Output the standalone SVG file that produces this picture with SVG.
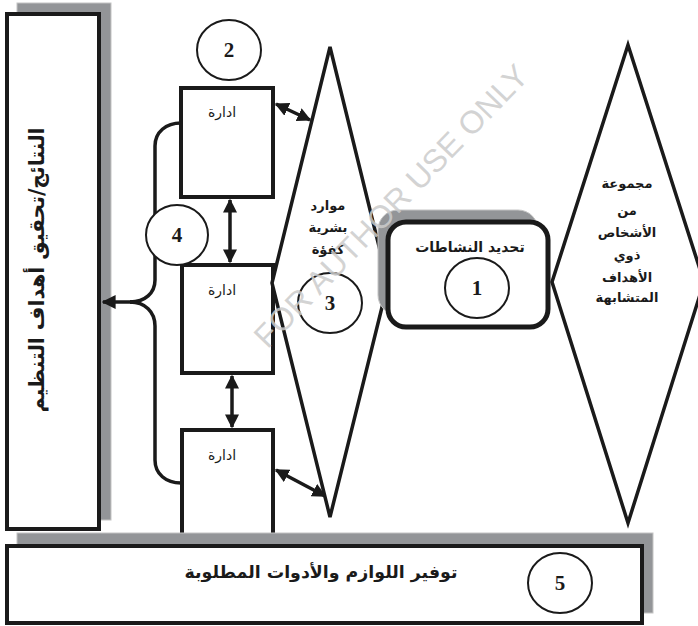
<svg xmlns="http://www.w3.org/2000/svg" width="698" height="626" viewBox="0 0 698 626">
<style>
.box{fill:#fff;stroke:#1a1a1a;stroke-width:4}
.shadow{fill:#939598;stroke:#c4c4c4;stroke-width:1}
.dia{fill:#fff;stroke:#1a1a1a;stroke-width:3.5;stroke-linejoin:miter}
.circ{fill:#fff;stroke:#1a1a1a;stroke-width:2}
.num{font-family:"Liberation Serif",serif;font-weight:bold;font-size:21px;fill:#1a1a1a;text-anchor:middle}
.ar{font-family:"DejaVu Sans",sans-serif;fill:#1a1a1a;text-anchor:middle}
.arb{font-family:"DejaVu Sans",sans-serif;font-weight:bold;fill:#1a1a1a;text-anchor:middle}
.con{fill:none;stroke:#1a1a1a;stroke-width:3.5}
</style>
<defs>
<marker id="ah" viewBox="0 0 10 10" refX="9" refY="5" markerWidth="4" markerHeight="4" orient="auto-start-reverse" markerUnits="strokeWidth">
<path d="M0,0 L10,5 L0,10 z" fill="#1a1a1a"/>
</marker>
</defs>
<rect width="698" height="626" fill="#fff"/>

<g id="results">
<rect class="shadow" x="17" y="3" width="94" height="517"/>
<rect class="box" x="7" y="14" width="92" height="515"/>
<text class="arb" font-size="21" transform="translate(44,270) rotate(-90)" textLength="285" lengthAdjust="spacingAndGlyphs">النتائج/تحقيق أهداف التنظيم</text>
</g>

<g id="circle2">
<ellipse class="circ" cx="229" cy="50" rx="32" ry="30"/>
<text class="num" x="229" y="57">2</text>
</g>

<g id="admin1">
<rect class="box" x="181" y="88" width="92" height="109"/>
<text class="ar" font-size="14" x="222" y="117">ادارة</text>
</g>
<g id="admin2">
<rect class="box" x="182" y="265" width="91" height="108"/>
<text class="ar" font-size="14" x="222" y="295">ادارة</text>
</g>
<g id="admin3">
<path class="box" d="M182,545 V430 H273 V545"/>
<text class="ar" font-size="14" x="222" y="460">ادارة</text>
</g>

<g id="resources">
<polygon class="dia" points="330,47 388,283 330,517 272,283"/>
<text class="arb" font-size="13" x="328" y="210">موارد</text>
<text class="arb" font-size="13" x="328" y="232">بشرية</text>
<text class="arb" font-size="13" x="328" y="254">كفؤة</text>
<ellipse class="circ" cx="330" cy="303" rx="32" ry="30"/>
<text class="num" x="330" y="310">3</text>
</g>

<g id="activities">
<rect class="shadow" x="378" y="210" width="160" height="105" rx="20"/>
<rect fill="#fff" stroke="#1a1a1a" stroke-width="5" x="388" y="222" width="160" height="105" rx="18"/>
<text class="arb" font-size="14" x="470" y="252">تحديد النشاطات</text>
<ellipse class="circ" cx="477" cy="288" rx="32" ry="30"/>
<text class="num" x="477" y="295">1</text>
</g>

<g id="group">
<polygon class="dia" points="628,45 704,282 628,523 552,282"/>
<text class="arb" font-size="13" x="627" y="188">مجموعة</text>
<text class="arb" font-size="13" x="627" y="215">من</text>
<text class="arb" font-size="13" x="627" y="237">الأشخاص</text>
<text class="arb" font-size="13" x="627" y="260">ذوي</text>
<text class="arb" font-size="13" x="627" y="282">الأهداف</text>
<text class="arb" font-size="13" x="627" y="302">المتشابهة</text>
</g>

<g id="connectors">
<path class="con" d="M230,200 V262" marker-start="url(#ah)" marker-end="url(#ah)"/>
<path class="con" d="M232,376 V427" marker-start="url(#ah)" marker-end="url(#ah)"/>
<path class="con" d="M276,104 L310,120" marker-start="url(#ah)" marker-end="url(#ah)"/>
<path class="con" d="M276,470 L325,496" marker-start="url(#ah)" marker-end="url(#ah)"/>
<path class="con" d="M181,123 C166,123 155,132 155,146 V280 C155,293 145,302 130,302"/>
<path class="con" d="M181,483 C166,483 155,474 155,460 V326 C155,312 145,302 130,302"/>
<path class="con" d="M132,302 H103" marker-end="url(#ah)"/>
</g>

<g id="circle4">
<ellipse class="circ" cx="177" cy="235" rx="31" ry="30"/>
<text class="num" x="177" y="242">4</text>
</g>

<g id="supplies">
<rect class="shadow" x="17" y="533" width="636" height="80"/>
<rect class="box" x="7" y="546" width="635" height="77"/>
<text class="arb" font-size="17" x="321" y="578" textLength="273" lengthAdjust="spacingAndGlyphs">توفير اللوازم والأدوات المطلوبة</text>
<ellipse class="circ" cx="560" cy="583" rx="32" ry="30"/>
<text class="num" x="560" y="590">5</text>
</g>

<g id="watermark" transform="translate(391,206) rotate(-46)">
<text x="0" y="11" font-family="Liberation Sans,Arial,sans-serif" font-size="32" fill="#cccccc" fill-opacity="0.85" text-anchor="middle">FOR AUTHOR USE ONLY</text>
</g>
</svg>
